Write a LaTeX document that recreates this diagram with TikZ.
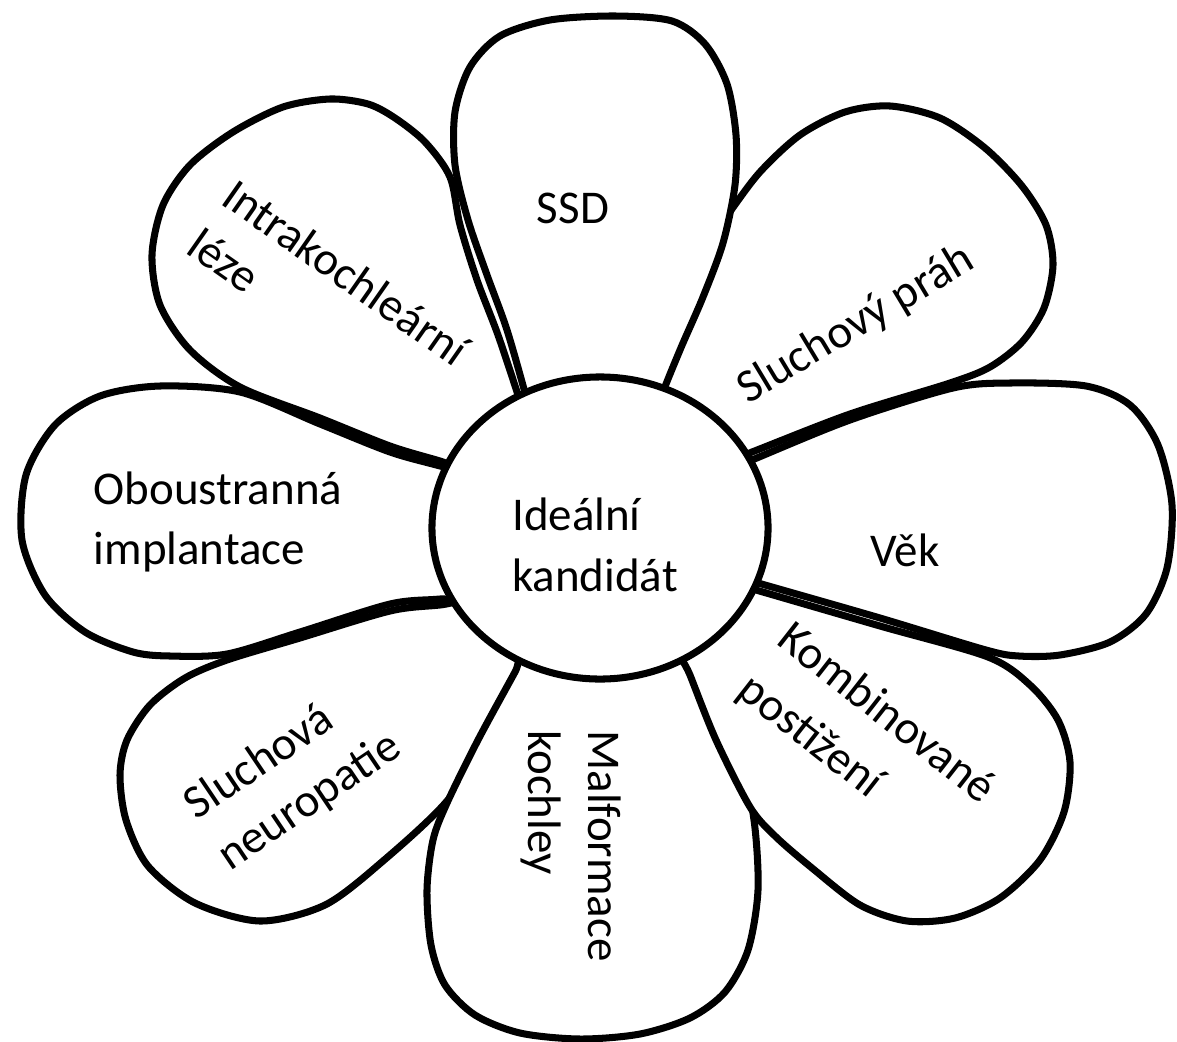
\documentclass[tikz,border=0pt]{standalone}
\usepackage{fontspec}
\setmainfont{Carlito}
\usetikzlibrary{shapes.geometric}
\tikzset{
    petal/.style = {draw=black, fill=white, line width=5pt, line join=round},
    hub/.style = {ellipse, draw=black, fill=white, line width=5pt, minimum width=8.4cm, minimum height=7.55cm, inner sep=0pt},
    petaltext/.style = {align=left, inner sep=0pt, font=\fontsize{33.4}{43}\selectfont}
}

\begin{document}
\begin{tikzpicture}[x=0.025cm, y=-0.025cm]
\useasboundingbox (0,0) rectangle (1177,1041);
%
% petals, back to front
\draw[petal] plot[smooth cycle] coordinates {(700,472) (650,385) (675,300) (703,250) (729,213) (760,172) (800,135) (845,112) (890,106) (940,118) (985,148) (1022,186) (1046,225) (1053,265) (1044,308) (1022,342) (990,367) (950,383) (850,414) (752,452)};
\draw[petal] plot[smooth cycle] coordinates {(540,450) (527,400) (507,330) (487,275) (468,220) (455,165) (455,112) (470,67) (500,36) (550,20) (615,16) (672,21) (705,44) (727,84) (736,135) (735,185) (723,243) (703,297) (680,350) (660,400) (645,450)};
\draw[petal] plot[smooth cycle] coordinates {(490,476) (440,461) (390,446) (320,418) (240,387) (190,350) (160,305) (152,255) (163,205) (190,165) (233,132) (283,107) (330,99) (368,104) (395,118) (425,142) (450,177) (460,225) (477,280) (498,335) (518,395) (532,440)};
\draw[petal] plot[smooth cycle] coordinates {(490,594) (440,599) (390,604) (300,632) (227,654) (170,656) (133,652) (85,632) (45,595) (22,540) (26,475) (55,425) (100,396) (160,386) (240,392) (320,424) (390,452) (440,466) (490,480)};
\draw[petal] plot[smooth cycle] coordinates {(490,600) (440,605) (390,611) (300,638) (227,660) (185,678) (150,705) (127,740) (120,775) (126,820) (148,866) (195,903) (260,921) (325,905) (383,861) (447,801) (490,735) (520,680) (545,640)};
\draw[petal] plot[smooth cycle] coordinates {(670,640) (700,690) (740,760) (754,820) (758,890) (748,950) (725,992) (690,1018) (640,1034) (580,1039) (520,1033) (475,1015) (445,985) (431,945) (427,890) (433,840) (447,803) (478,740) (515,672) (535,635)};
\draw[petal] plot[smooth cycle] coordinates {(700,574) (756,590) (880,626) (988,657) (1030,685) (1058,720) (1070,762) (1064,812) (1040,860) (1000,898) (955,918) (907,921) (860,905) (812,868) (775,836) (750,807) (716,740) (690,675) (675,637)};
\draw[petal] plot[smooth cycle] coordinates {(705,480) (752,460) (850,420) (953,388) (1010,383) (1086,386) (1130,405) (1158,445) (1172,505) (1167,568) (1146,614) (1110,642) (1060,655) (1019,656) (986,650) (880,618) (758,583) (705,568)};
%
\node[hub] at (600, 528) (hub) {};
%
\node[petaltext] at (595, 545) (ideal) {Ideální\\kandidát};
\node[petaltext] at (573, 208) (ssd) {SSD};
\node[petaltext, rotate=31] at (856, 325) (prah) {Sluchový práh};
\node[petaltext] at (905, 550) (vek) {Věk};
\node[petaltext, rotate=-38] at (866, 740) (komb) {Kombinované\\[3pt]postižení};
\node[petaltext, rotate=-90] at (571, 846) (malf) {Malformace\\kochley};
\node[petaltext, rotate=34] at (293, 777) (neuro) {Sluchová\\neuropatie};
\node[petaltext] at (218, 522) (obou) {Oboustranná\\implantace};
\node[petaltext, rotate=-35] at (329, 297) (intra) {Intrakochleární\\léze};

\end{tikzpicture}
\end{document}
